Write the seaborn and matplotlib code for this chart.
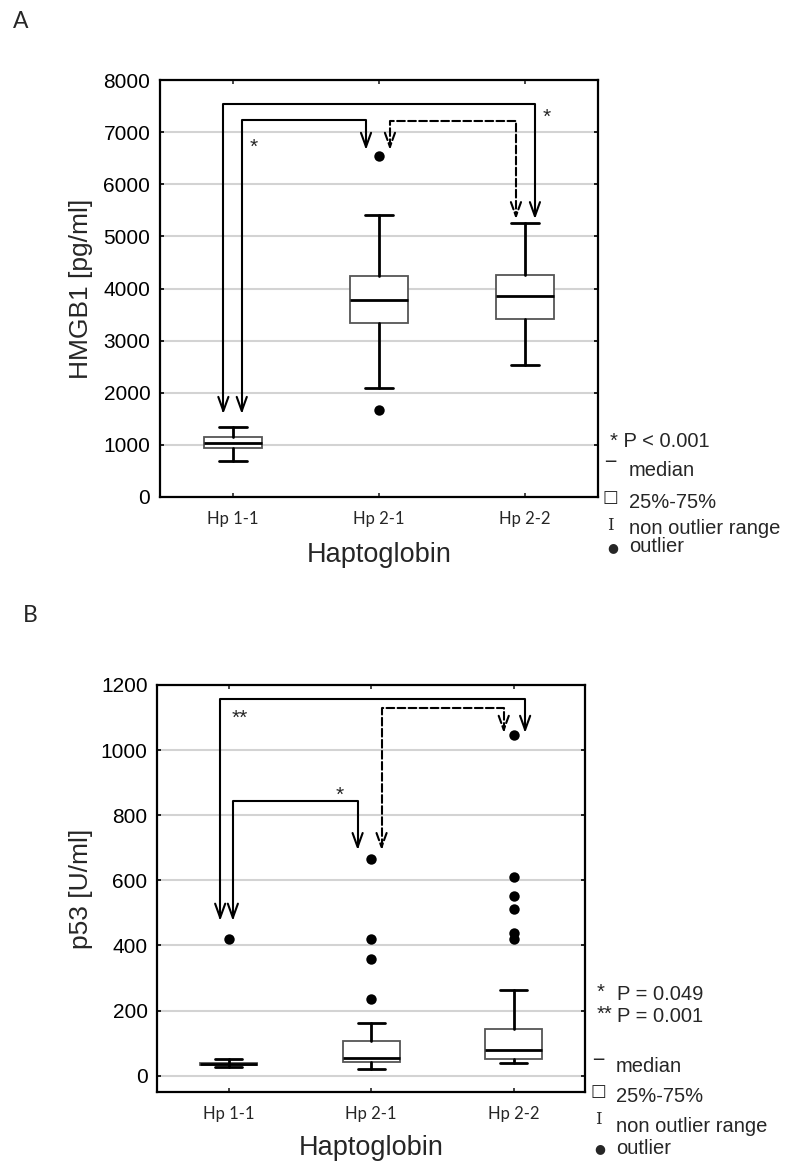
import numpy as np
import pandas as pd
import seaborn as sns
import matplotlib.pyplot as plt
from matplotlib.patches import FancyArrowPatch
from matplotlib.path import Path

groups = ['Hp 1-1', 'Hp 2-1', 'Hp 2-2']

# panel A - HMGB1 box stats
a_lo = [697, 2098, 2534]
a_q1 = [934, 3340, 3417]
a_med = [1030, 3781, 3858]
a_q3 = [1157, 4248, 4267]
a_hi = [1338, 5413, 5266]
a_out_group = ['Hp 2-1', 'Hp 2-1']
a_out_value = [6551, 1670]

# panel B - p53 box stats
b_lo = [28, 20, 38]
b_q1 = [32, 42, 51]
b_med = [36, 55, 80]
b_q3 = [40, 106, 143]
b_hi = [50, 163, 262]
b_out_group = ['Hp 1-1', 'Hp 2-1', 'Hp 2-1', 'Hp 2-1', 'Hp 2-1',
               'Hp 2-2', 'Hp 2-2', 'Hp 2-2', 'Hp 2-2', 'Hp 2-2', 'Hp 2-2']
b_out_value = [419, 667, 421, 359, 235, 1045, 609, 551, 511, 437, 419]

sns.set_theme(style='white')
plt.rcParams['font.family'] = ['Liberation Sans', 'DejaVu Sans']

fig = plt.figure(figsize=(7.85, 11.62), dpi=100)
W, H = 785, 1162


def px(x, y):
    return x / W, 1 - y / H


def draw_panel(ax, lo, q1, med, q3, hi, out_g, out_v):
    stats = []
    for i in range(len(groups)):
        stats.append(dict(whislo=lo[i], q1=q1[i], med=med[i], q3=q3[i], whishi=hi[i], fliers=[]))
    ax.bxp(stats, positions=[0, 1, 2], widths=0.4, showfliers=False, patch_artist=True,
           manage_ticks=False,
           boxprops=dict(facecolor='white', edgecolor='#555555', linewidth=1.3),
           medianprops=dict(color='black', linewidth=2),
           whiskerprops=dict(color='black', linewidth=2),
           capprops=dict(color='black', linewidth=2), capwidths=0.19)
    df = pd.DataFrame({'group': out_g, 'value': out_v})
    sns.stripplot(data=df, x='group', y='value', order=groups, jitter=False,
                  color='black', size=7.5, ax=ax, zorder=5)
    ax.set_xlim(-0.5, 2.5)
    ax.yaxis.grid(True, color='#d3d3d3', linewidth=1.5)
    ax.set_axisbelow(True)
    for s in ax.spines.values():
        s.set_color('black')
        s.set_linewidth(1.6)
    ax.tick_params(axis='y', direction='in', length=3, width=1.2, left=True, right=True,
                   labelsize=15, pad=7, colors='black')
    ax.tick_params(axis='x', direction='in', length=3, width=1.2, bottom=True, top=True,
                   pad=10)
    for lab in ax.get_xticklabels():
        lab.set_fontfamily('Lato')
        lab.set_fontsize(12)


def bracket(ax, x1, y1, x2, y2, ytop, ls='-'):
    verts = [(x1, y1), (x1, ytop), (x2, ytop), (x2, y2)]
    p = FancyArrowPatch(path=Path(verts), arrowstyle='<->,head_length=0.72,head_width=0.26',
                        mutation_scale=14, linewidth=1.5, linestyle=ls, color='black',
                        transform=ax.transData)
    ax.add_patch(p)


# ---- panel A
axA = fig.add_axes([160 / W, 1 - 497 / H, 438 / W, 417 / H])
draw_panel(axA, a_lo, a_q1, a_med, a_q3, a_hi, a_out_group, a_out_value)
axA.set_ylim(0, 8000)
axA.set_yticks(range(0, 8001, 1000))
axA.set_xlabel('Haptoglobin', fontsize=19.5)
axA.set_ylabel('HMGB1 [pg/ml]', fontsize=19)
axA.xaxis.set_label_coords(0.5, -0.139)
axA.xaxis.label.set_va('center')
axA.yaxis.set_label_coords(-0.18, 0.5)
axA.yaxis.label.set_va('center')

bracket(axA, -0.066, 1593, 2.068, 5330, 7537)
bracket(axA, 0.06, 1593, 0.911, 6660, 7236)
bracket(axA, 1.075, 6660, 1.938, 5330, 7217, ls='--')
axA.text(2.149, 7290, '*', fontsize=15, ha='center', va='center')
axA.text(0.144, 6714, '*', fontsize=15, ha='center', va='center')

# ---- panel B
axB = fig.add_axes([157.3 / W, 1 - 1092 / H, 427.7 / W, 407 / H])
draw_panel(axB, b_lo, b_q1, b_med, b_q3, b_hi, b_out_group, b_out_value)
axB.set_ylim(-50, 1200)
axB.set_yticks(range(0, 1201, 200))
axB.set_xlabel('Haptoglobin', fontsize=19.5)
axB.set_ylabel('p53 [U/ml]', fontsize=19)
axB.xaxis.set_label_coords(0.5, -0.1376)
axB.xaxis.label.set_va('center')
axB.yaxis.set_label_coords(-0.178, 0.5)
axB.yaxis.label.set_va('center')

bracket(axB, -0.059, 476, 2.08, 1053, 1156)
bracket(axB, 0.03, 476, 0.905, 693, 844)
bracket(axB, 1.073, 693, 1.93, 1053, 1128, ls='--')
axB.text(0.076, 1099, '**', fontsize=15, ha='center', va='center')
axB.text(0.781, 862, '*', fontsize=15, ha='center', va='center')

# panel letters
fig.text(*px(20.5, 21), 'A', fontsize=16.5, family='Lato', ha='center', va='center')
fig.text(*px(30.5, 615.5), 'B', fontsize=16.5, family='Lato', ha='center', va='center')

# legend A
fs = 14.5
fig.text(*px(610, 441), '* P < 0.001', fontsize=fs, va='center')
fig.text(*px(610, 469), '\u203e', fontsize=fs, family='DejaVu Sans', ha='center', va='center')
fig.text(*px(629, 470), 'median', fontsize=fs, va='center')
fig.text(*px(610, 497), '\u25a1', fontsize=12, family='DejaVu Sans', ha='center', va='center')
fig.text(*px(629, 502), '25%-75%', fontsize=fs, va='center')
fig.text(*px(610, 525), 'I', fontsize=12, family='DejaVu Serif', ha='center', va='center')
fig.text(*px(629, 528), 'non outlier range', fontsize=fs, va='center')
fig.text(*px(613, 548), '\u25cf', fontsize=9, family='DejaVu Sans', ha='center', va='center')
fig.text(*px(629, 547), 'outlier', fontsize=fs, va='center')

# legend B
fig.text(*px(597, 992), '*', fontsize=fs, va='center')
fig.text(*px(617, 995), 'P = 0.049', fontsize=fs, va='center')
fig.text(*px(597, 1014), '**', fontsize=fs, va='center')
fig.text(*px(617, 1017), 'P = 0.001', fontsize=fs, va='center')
fig.text(*px(598, 1067), '\u203e', fontsize=fs, family='DejaVu Sans', ha='center', va='center')
fig.text(*px(616, 1067), 'median', fontsize=fs, va='center')
fig.text(*px(598, 1091), '\u25a1', fontsize=12, family='DejaVu Sans', ha='center', va='center')
fig.text(*px(616, 1097), '25%-75%', fontsize=fs, va='center')
fig.text(*px(598, 1119), 'I', fontsize=12, family='DejaVu Serif', ha='center', va='center')
fig.text(*px(616, 1127), 'non outlier range', fontsize=fs, va='center')
fig.text(*px(600, 1149), '\u25cf', fontsize=9, family='DejaVu Sans', ha='center', va='center')
fig.text(*px(616, 1148), 'outlier', fontsize=fs, va='center')

fig.savefig('out.png', dpi=100, facecolor='white')
